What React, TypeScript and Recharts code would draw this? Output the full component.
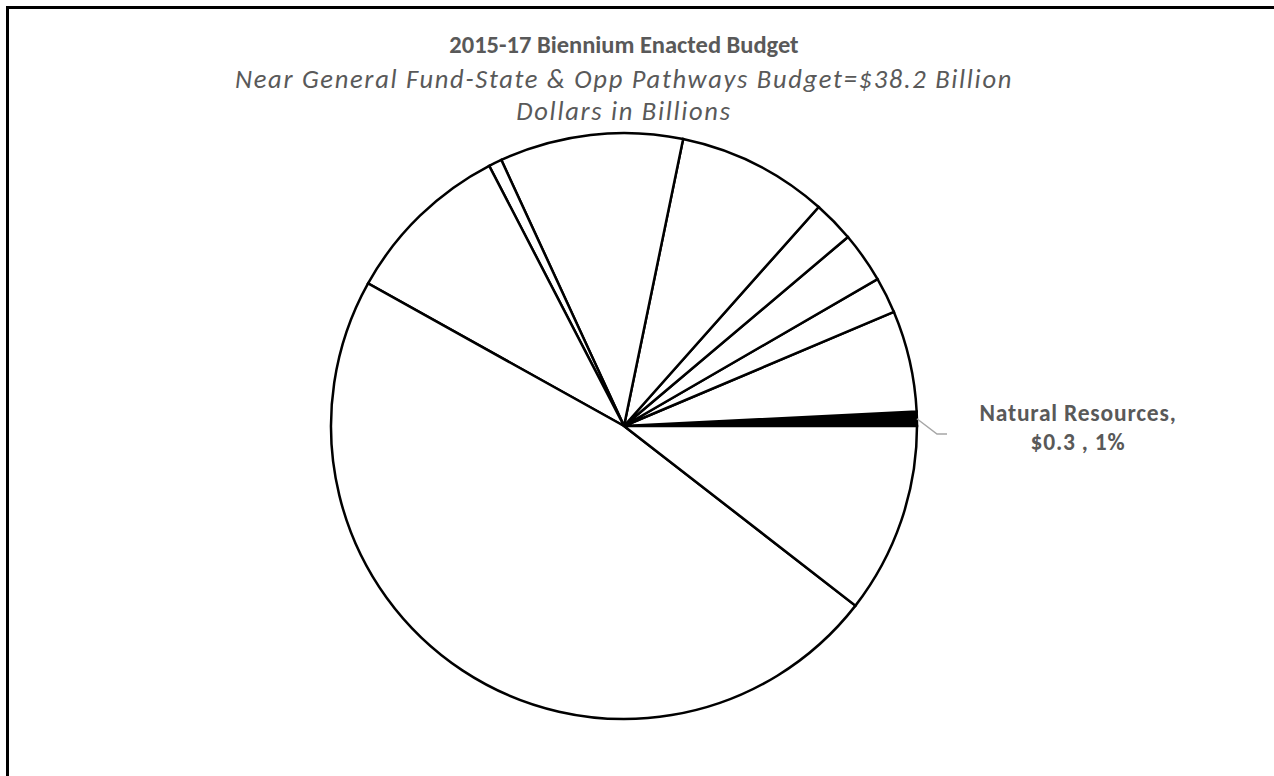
import { PieChart, Pie, Cell } from 'recharts';

// 2015-17 NGF-S + Opportunity Pathways, billions of dollars
const categories = [
  'Natural Resources',
  'Other',
  'Corrections',
  'Other Human Services',
  'Debt Service',
  'DSHS Long-Term Care',
  'DSHS Other',
  'Governmental Operations',
  'Health Care',
  'K-12 Education',
  'Higher Education',
];
const amounts = [0.3, 2.13, 0.76, 1.07, 0.87, 3.18, 3.86, 0.28, 3.55, 18.17, 4.01];
const fills = ['#000000', '#ffffff', '#ffffff', '#ffffff', '#ffffff', '#ffffff', '#ffffff', '#ffffff', '#ffffff', '#ffffff', '#ffffff'];
const labelled = ['Natural Resources'];

const TITLE = '2015-17 Biennium Enacted Budget';
const SUBTITLE = 'Near General Fund-State & Opp Pathways Budget=$38.2 Billion';
const SUBTITLE2 = 'Dollars in Billions';

const FONT = 'Carlito, Lato, "Open Sans", sans-serif';
const TEXT = '#595959';

const data = categories.map((name, i) => ({ name, value: amounts[i] }));

const RAD = Math.PI / 180;

function renderLabel(props: any) {
  const { cx, cy, outerRadius, payload, percent, value } = props;
  if (!labelled.includes(payload.name)) return null;
  const x = cx + outerRadius + 161;
  const y = cy - 5;
  return (
    <text x={x} y={y} textAnchor="middle" fill={TEXT} fontFamily={FONT} fontWeight="bold" fontSize={23.5} letterSpacing={0.8}>
      <tspan x={x} dy={0}>{payload.name},</tspan>
      <tspan x={x} dy={28.5}>${value.toFixed(1)} , {Math.round(percent * 100)}%</tspan>
    </text>
  );
}

function renderLabelLine(props: any) {
  const { cx, cy, outerRadius, midAngle, payload } = props;
  if (!labelled.includes(payload.name)) return <g />;
  const sx = cx + outerRadius * Math.cos(-midAngle * RAD);
  const sy = cy + outerRadius * Math.sin(-midAngle * RAD);
  const mx = cx + outerRadius + 20;
  const my = cy + 8;
  return (
    <path d={`M${sx},${sy}L${mx},${my}L${mx + 10},${my}`} stroke="#a6a6a6" strokeWidth={1.5} fill="none" />
  );
}

const line = (top: number, size: number, style: any) => ({
  position: 'absolute' as const,
  left: 0,
  width: 1248,
  top,
  textAlign: 'center' as const,
  fontFamily: FONT,
  color: TEXT,
  fontSize: size,
  lineHeight: '32px',
  whiteSpace: 'nowrap' as const,
  ...style,
});

export default function App() {
  return (
    <div style={{ position: 'absolute', left: 0, top: 0, width: 1274, height: 776, background: '#fff', overflow: 'hidden' }}>
      <div
        style={{
          position: 'absolute',
          left: 6,
          top: 6,
          width: 1300,
          height: 800,
          borderTop: '3px solid #000',
          borderLeft: '3px solid #000',
        }}
      />
      <div style={line(29, 24.5, { fontWeight: 'bold' })}>{TITLE}</div>
      <div style={line(63, 26.5, { fontStyle: 'italic', letterSpacing: 1.7 })}>{SUBTITLE}</div>
      <div style={line(95, 26.5, { fontStyle: 'italic', letterSpacing: 1.7 })}>{SUBTITLE2}</div>
      <div style={{ position: 'absolute', left: 0, top: 0 }}>
        <PieChart width={1274} height={776}>
          <Pie
            data={data}
            dataKey="value"
            nameKey="name"
            cx={619}
            cy={421}
            outerRadius={293}
            startAngle={0}
            endAngle={360}
            stroke="#000"
            strokeWidth={2.5}
            label={renderLabel}
            labelLine={renderLabelLine}
            isAnimationActive={false}
          >
            {data.map((entry, idx) => (
              <Cell key={`cell-${idx}`} fill={fills[idx]} />
            ))}
          </Pie>
        </PieChart>
      </div>
    </div>
  );
}
